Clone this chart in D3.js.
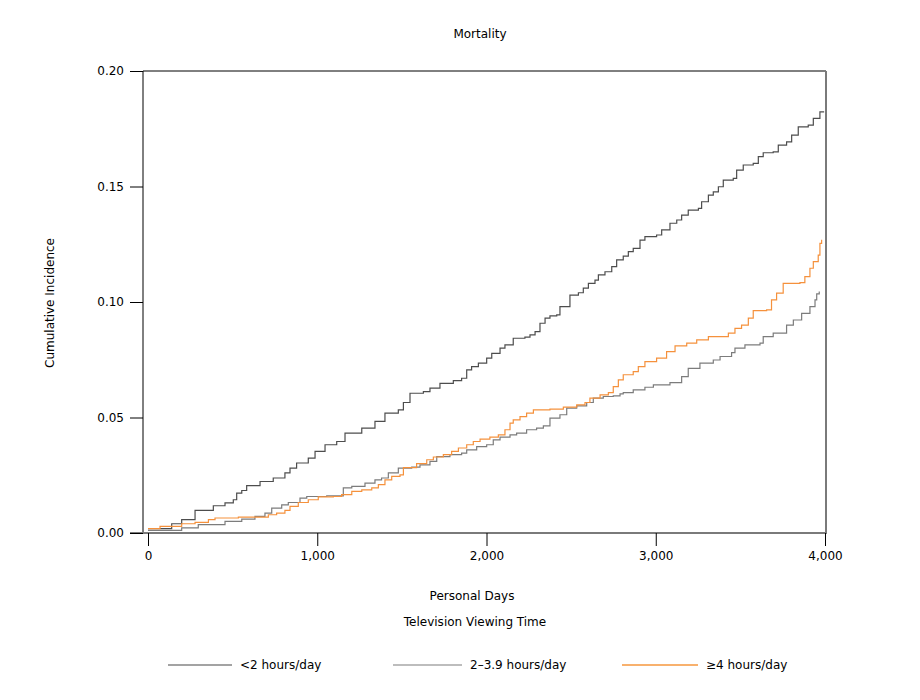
<!DOCTYPE html>
<html>
<head>
<meta charset="utf-8">
<script src="https://cdn.jsdelivr.net/npm/d3@7"></script>
<style>
	body { margin: 0; background: #fff; }
	text { font-family: "DejaVu Sans", Verdana, sans-serif; font-size: 12px; fill: #000; }
</style>
</head>
<body>
<div id="container"></div>
<script>
// chart data: [personal days, cumulative incidence]
var seriesNames = ["<2 hours/day", "2\u20133.9 hours/day", "\u22654 hours/day"];
var xTicks = [0, 1000, 2000, 3000, 4000];
var yTicks = [0, 0.05, 0.10, 0.15, 0.20];

var under2 = [
	[0,0.0019],[140,0.004],[199,0.0058],[278,0.0098],[386,0.0118],[455,0.013],[504,0.0144],[524,0.0173],
	[554,0.0184],[583,0.0205],[662,0.0223],[740,0.0238],[809,0.026],[839,0.0281],[878,0.0303],[947,0.0324],
	[987,0.0353],[1046,0.0382],[1115,0.0396],[1164,0.0432],[1263,0.0454],[1341,0.0483],[1400,0.0519],
	[1479,0.0533],[1509,0.0565],[1548,0.0605],[1627,0.0612],[1666,0.0627],[1725,0.0648],[1804,0.066],
	[1853,0.067],[1883,0.0706],[1912,0.072],[1952,0.0735],[2001,0.0757],[2031,0.0778],[2080,0.08],
	[2109,0.0814],[2158,0.0843],[2227,0.0848],[2257,0.0858],[2287,0.0872],[2316,0.0908],[2346,0.093],
	[2375,0.094],[2415,0.0944],[2434,0.098],[2493,0.103],[2543,0.104],[2572,0.106],[2602,0.1081],
	[2641,0.1095],[2661,0.1117],[2700,0.1131],[2740,0.1153],[2769,0.1182],[2808,0.1199],[2838,0.1218],
	[2867,0.1232],[2907,0.1268],[2936,0.1283],[3005,0.129],[3035,0.1312],[3084,0.1341],[3124,0.1355],
	[3153,0.1376],[3192,0.1398],[3252,0.1405],[3271,0.1434],[3311,0.1463],[3340,0.1477],[3370,0.1499],
	[3399,0.1528],[3458,0.1535],[3478,0.1571],[3517,0.1593],[3576,0.16],[3606,0.1629],[3635,0.1646],
	[3694,0.165],[3724,0.1679],[3773,0.1693],[3803,0.1722],[3842,0.1758],[3901,0.1766],[3931,0.1795],
	[3970,0.1823],[3995,0.1823]
];
var from2to39 = [
	[0,0.0011],[199,0.0022],[297,0.0036],[455,0.005],[554,0.006],[632,0.0072],[691,0.0086],[731,0.0108],
	[790,0.0122],[829,0.0132],[898,0.0151],[938,0.0158],[1056,0.0161],[1154,0.0195],[1204,0.0202],
	[1282,0.0216],[1341,0.023],[1380,0.0238],[1420,0.026],[1479,0.0281],[1558,0.0285],[1607,0.0295],
	[1666,0.031],[1706,0.0331],[1784,0.0339],[1853,0.0346],[1883,0.036],[1942,0.0374],[2001,0.0382],
	[2040,0.0403],[2080,0.0415],[2139,0.0425],[2178,0.0432],[2237,0.0447],[2296,0.0454],[2336,0.0464],
	[2375,0.0497],[2434,0.0512],[2474,0.0541],[2533,0.055],[2592,0.0565],[2631,0.0584],[2690,0.0591],
	[2749,0.0594],[2789,0.0602],[2808,0.0608],[2867,0.062],[2936,0.0631],[2986,0.0641],[3084,0.0651],
	[3153,0.0677],[3192,0.0713],[3261,0.0735],[3340,0.0749],[3380,0.0764],[3448,0.0781],[3468,0.08],
	[3527,0.0814],[3616,0.0822],[3635,0.085],[3694,0.0865],[3773,0.09],[3813,0.0922],[3862,0.0951],
	[3911,0.098],[3941,0.1009],[3951,0.1035],[3966,0.1045]
];
var over4 = [
	[0,0.0019],[71,0.0029],[199,0.004],[278,0.0046],[357,0.0058],[396,0.0065],[534,0.0069],[711,0.0079],
	[760,0.0086],[809,0.0098],[839,0.0115],[888,0.0132],[947,0.0144],[1006,0.0156],[1095,0.0158],
	[1144,0.0166],[1204,0.018],[1263,0.0187],[1322,0.0195],[1361,0.0209],[1400,0.023],[1440,0.0245],
	[1489,0.0252],[1509,0.0283],[1587,0.03],[1647,0.0317],[1686,0.0329],[1745,0.0339],[1794,0.0353],
	[1834,0.0368],[1883,0.0382],[1922,0.0396],[1962,0.0406],[2020,0.0415],[2070,0.0425],[2109,0.0447],
	[2139,0.0476],[2158,0.049],[2198,0.0504],[2237,0.0519],[2277,0.0533],[2375,0.0536],[2454,0.0545],
	[2533,0.0555],[2582,0.0565],[2611,0.0584],[2671,0.0598],[2720,0.0608],[2749,0.0634],[2779,0.0663],
	[2808,0.0685],[2867,0.0699],[2897,0.072],[2936,0.0742],[3005,0.0757],[3064,0.0785],[3114,0.081],
	[3183,0.0822],[3242,0.0836],[3311,0.085],[3429,0.0865],[3468,0.0886],[3507,0.09],[3547,0.093],
	[3576,0.0963],[3655,0.0966],[3684,0.1009],[3714,0.1038],[3753,0.1081],[3852,0.1084],[3881,0.111],
	[3911,0.1146],[3931,0.1175],[3960,0.1203],[3970,0.1254],[3980,0.127]
];

(function()
{
	var width = 920, height = 700;
	var frame = {left: 143, right: 826, top: 71, bottom: 533};
	var lineColors = ["#4d4d4d", "#7c7c7c", "#f5913c"];
	var legendColors = ["#a3a3a3", "#bdbdbd", "#f8b16e"];
	var allSeries = [under2, from2to39, over4];

	var svg = d3.select("#container").append("svg")
		.attr("width", width).attr("height", height);

	var x = d3.scaleLinear().domain([0, 4000]).range([148, 825]);
	var y = d3.scaleLinear().domain([0, 0.2]).range([frame.bottom, frame.top]);

	// titles
	svg.append("text").attr("x", 480).attr("y", 38).attr("text-anchor", "middle").text("Mortality");
	svg.append("text").attr("x", 472).attr("y", 600).attr("text-anchor", "middle").text("Personal Days");
	svg.append("text").attr("x", 475).attr("y", 626).attr("text-anchor", "middle").text("Television Viewing Time");
	svg.append("text").attr("transform", "translate(54,303) rotate(-90)")
		.attr("text-anchor", "middle").text("Cumulative Incidence");

	// frame: left/top dark, right/bottom gray
	svg.append("line").attr("x1", frame.left).attr("x2", frame.left)
		.attr("y1", frame.top).attr("y2", frame.bottom).attr("stroke", "#000");
	svg.append("line").attr("x1", frame.left).attr("x2", frame.right)
		.attr("y1", frame.top).attr("y2", frame.top).attr("stroke", "#000");
	svg.append("line").attr("x1", frame.right).attr("x2", frame.right)
		.attr("y1", frame.top).attr("y2", frame.bottom + 1).attr("stroke", "#7a7a7a").attr("stroke-width", 2);
	svg.append("line").attr("x1", 130).attr("x2", frame.right)
		.attr("y1", frame.bottom).attr("y2", frame.bottom).attr("stroke", "#7a7a7a").attr("stroke-width", 2);

	// axes
	var xAxis = svg.append("g").attr("transform", "translate(0," + frame.bottom + ")")
		.call(d3.axisBottom(x).tickValues(xTicks).tickFormat(d3.format(",")).tickSize(13).tickPadding(5));
	xAxis.select(".domain").remove();
	xAxis.selectAll("line").attr("stroke", "#000");

	var yAxis = svg.append("g").attr("transform", "translate(" + frame.left + ",0)")
		.call(d3.axisLeft(y).tickValues(yTicks).tickFormat(d3.format(".2f")).tickSize(13).tickPadding(6));
	yAxis.select(".domain").remove();
	yAxis.selectAll("line").attr("stroke", "#000");
	svg.selectAll(".tick text").style("font-size", "12px")
		.style("font-family", "\"DejaVu Sans\", Verdana, sans-serif").attr("fill", "#000");

	// step curves
	var line = d3.line()
		.x(function(d) { return x(d[0]); })
		.y(function(d) { return y(d[1]); })
		.curve(d3.curveStepAfter);

	for (var i = 0; i < allSeries.length; i++)
	{
		svg.append("path").datum(allSeries[i])
			.attr("fill", "none")
			.attr("stroke", lineColors[i])
			.attr("stroke-width", 1.2)
			.attr("d", line);
	}

	// legend
	var legendX = [168, 393, 622];
	var legendLen = [64, 69, 76];
	var legend = svg.append("g");
	for (var j = 0; j < seriesNames.length; j++)
	{
		legend.append("line")
			.attr("x1", legendX[j]).attr("x2", legendX[j] + legendLen[j])
			.attr("y1", 665).attr("y2", 665)
			.attr("stroke", legendColors[j]).attr("stroke-width", 2);
		legend.append("text")
			.attr("x", legendX[j] + legendLen[j] + 8).attr("y", 669)
			.text(seriesNames[j]);
	}
})();
</script>
</body>
</html>
